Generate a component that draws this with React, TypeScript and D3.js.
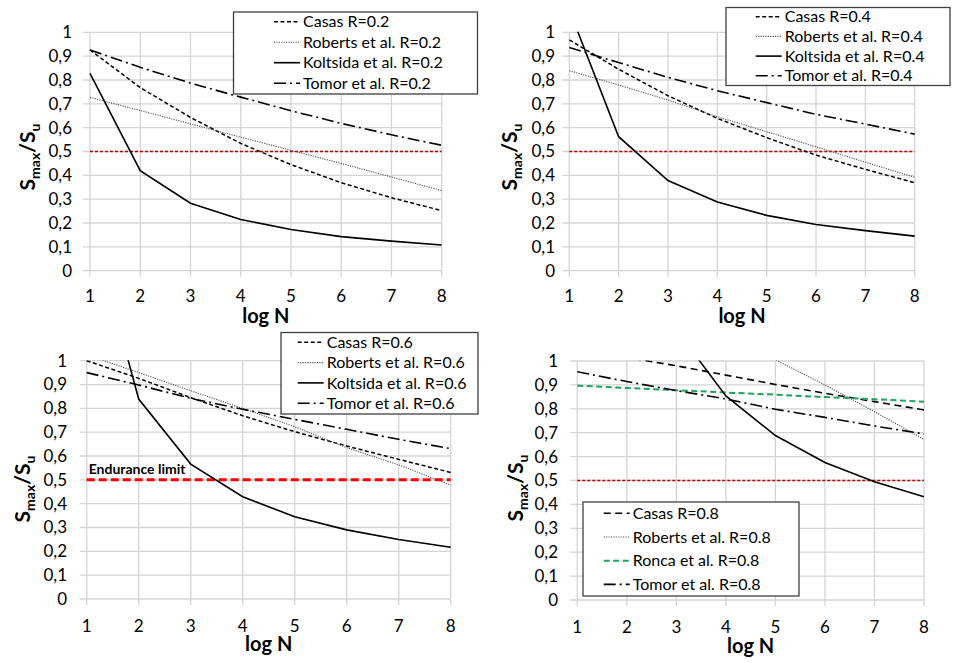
import React from 'react';
import * as d3 from 'd3';

// ---------- DATA ----------
const logN = [1, 2, 3, 4, 5, 6, 7, 8];
const yTickValues = [0, 0.1, 0.2, 0.3, 0.4, 0.5, 0.6, 0.7, 0.8, 0.9, 1];
const yTickLabels = ['0', '0,1', '0,2', '0,3', '0,4', '0,5', '0,6', '0,7', '0,8', '0,9', '1'];
const enduranceLimit = 0.5;

// R = 0.2
const casas02 = [0.926, 0.768, 0.643, 0.534, 0.445, 0.369, 0.306, 0.252];
const roberts02 = [0.727, 0.672, 0.616, 0.56, 0.505, 0.45, 0.393, 0.336];
const koltsida02 = [0.828, 0.42, 0.283, 0.215, 0.173, 0.143, 0.124, 0.108];
const tomor02 = [0.926, 0.853, 0.787, 0.728, 0.671, 0.618, 0.57, 0.526];

// R = 0.4
const casas04 = [0.968, 0.845, 0.734, 0.639, 0.558, 0.485, 0.425, 0.369];
const roberts04 = [0.839, 0.779, 0.716, 0.646, 0.583, 0.52, 0.455, 0.392];
const koltsida04 = [1.094, 0.562, 0.378, 0.288, 0.232, 0.194, 0.168, 0.145];
const tomor04 = [0.936, 0.873, 0.811, 0.755, 0.705, 0.656, 0.615, 0.573];

// R = 0.6
const casas06 = [1.0, 0.926, 0.845, 0.769, 0.702, 0.642, 0.586, 0.531];
const roberts06 = [1.025, 0.95, 0.874, 0.8, 0.723, 0.635, 0.563, 0.478];
const koltsida06 = [1.644, 0.839, 0.566, 0.429, 0.345, 0.29, 0.25, 0.217];
const tomor06 = [0.95, 0.898, 0.842, 0.796, 0.754, 0.712, 0.67, 0.631];

// R = 0.8
const casas08 = [1.05, 1.015, 0.98, 0.941, 0.902, 0.865, 0.83, 0.795];
const roberts08 = [1.47, 1.35, 1.235, 1.12, 1.005, 0.9, 0.788, 0.672];
const ronca08 = [0.897, 0.887, 0.878, 0.868, 0.859, 0.849, 0.84, 0.83];
const tomor08 = [0.955, 0.914, 0.876, 0.841, 0.798, 0.764, 0.728, 0.695];
const koltsida08 = [2.1, 1.5, 1.13, 0.854, 0.688, 0.575, 0.495, 0.432];

// ---------- STYLES ----------
type LineStyle = { stroke: string; width: number; dash?: string };
const sCasas: LineStyle = { stroke: '#000', width: 1.5, dash: '4,2.5' };
const sCasas08: LineStyle = { stroke: '#000', width: 1.6, dash: '7,4.5' };
const sRoberts: LineStyle = { stroke: '#555', width: 1.1, dash: '1.2,1.2' };
const sKoltsida: LineStyle = { stroke: '#000', width: 1.6 };
const sTomor: LineStyle = { stroke: '#000', width: 1.6, dash: '12,4,2,4' };
const sRonca: LineStyle = { stroke: '#20a35a', width: 2, dash: '6,3.5' };

type Series = { name?: string; values: number[]; style: LineStyle };

type PanelCfg = {
  x0: number; x1: number; yTop: number; yBottom: number;
  series: Series[];
  legend: { x: number; y: number; w: number; h: number; rowStart: number; rowStep: number; sampleX: number };
  ylabel: { x: number; y: number };
  tickRight: number;
  xTickY: number;
  xLabelY: number;
  redThick?: boolean;
};

const panels: PanelCfg[] = [
  {
    x0: 90, x1: 441.7, yTop: 32.3, yBottom: 270.7,
    series: [
      { name: 'Casas R=0.2', values: casas02, style: sCasas },
      { name: 'Roberts et al. R=0.2', values: roberts02, style: sRoberts },
      { name: 'Koltsida et al. R=0.2', values: koltsida02, style: sKoltsida },
      { name: 'Tomor et al. R=0.2', values: tomor02, style: sTomor },
    ],
    legend: { x: 233.5, y: 12, w: 244, h: 82, rowStart: 21.7, rowStep: 20.5, sampleX: 274 },
    ylabel: { x: 28, y: 157 },
    tickRight: 72,
    xTickY: 296,
    xLabelY: 323,
  },
  {
    x0: 569.3, x1: 914.7, yTop: 32.3, yBottom: 270.7,
    series: [
      { name: 'Casas R=0.4', values: casas04, style: sCasas },
      { name: 'Roberts et al. R=0.4', values: roberts04, style: sRoberts },
      { name: 'Koltsida et al. R=0.4', values: koltsida04, style: sKoltsida },
      { name: 'Tomor et al. R=0.4', values: tomor04, style: sTomor },
    ],
    legend: { x: 726, y: 7.5, w: 224, h: 78, rowStart: 16.7, rowStep: 19.7, sampleX: 755.7 },
    ylabel: { x: 510, y: 157 },
    tickRight: 555,
    xTickY: 296,
    xLabelY: 323,
  },
  {
    x0: 86.7, x1: 450.7, yTop: 360.7, yBottom: 599,
    series: [
      { name: 'Casas R=0.6', values: casas06, style: sCasas },
      { name: 'Roberts et al. R=0.6', values: roberts06, style: sRoberts },
      { name: 'Koltsida et al. R=0.6', values: koltsida06, style: sKoltsida },
      { name: 'Tomor et al. R=0.6', values: tomor06, style: sTomor },
    ],
    legend: { x: 281, y: 332.5, w: 197, h: 81.5, rowStart: 342.3, rowStep: 20.3, sampleX: 297.7 },
    ylabel: { x: 23, y: 489 },
    tickRight: 67,
    xTickY: 626,
    xLabelY: 651,
    redThick: true,
  },
  {
    x0: 577.3, x1: 924, yTop: 361, yBottom: 600,
    series: [
      { name: 'Casas R=0.8', values: casas08, style: sCasas08 },
      { name: 'Roberts et al. R=0.8', values: roberts08, style: sRoberts },
      { name: 'Ronca et al. R=0.8', values: ronca08, style: sRonca },
      { name: 'Tomor et al. R=0.8', values: tomor08, style: sTomor },
      { values: koltsida08, style: sKoltsida },
    ],
    legend: { x: 583, y: 502, w: 216, h: 94, rowStart: 513.3, rowStep: 23.7, sampleX: 603.7 },
    ylabel: { x: 516, y: 488 },
    tickRight: 558,
    xTickY: 627,
    xLabelY: 653,
  },
];

const FONT = 'Lato, "Open Sans", "DejaVu Sans", sans-serif';

function Panel({ cfg, idx }: { cfg: PanelCfg; idx: number }) {
  const x = d3.scaleLinear().domain([1, 8]).range([cfg.x0, cfg.x1]);
  const y = d3.scaleLinear().domain([0, 1]).range([cfg.yBottom, cfg.yTop]);
  const line = d3.line<number>().x((_, i) => x(logN[i])).y((d) => y(d));
  const clipId = `clip-${idx}`;
  const legendItems = cfg.series.filter((s) => s.name);
  return (
    <g>
      <defs>
        <clipPath id={clipId}>
          <rect x={cfg.x0 - 1} y={cfg.yTop - 0.5} width={cfg.x1 - cfg.x0 + 2} height={cfg.yBottom - cfg.yTop + 1} />
        </clipPath>
      </defs>
      {/* grid */}
      {yTickValues.map((v) => (
        <line key={'h' + v} x1={cfg.x0 - 7} x2={cfg.x1} y1={y(v)} y2={y(v)} stroke="#d4d4d4" strokeWidth={1.3} />
      ))}
      {logN.map((v) => (
        <line key={'v' + v} x1={x(v)} x2={x(v)} y1={cfg.yTop} y2={cfg.yBottom + 6} stroke="#d4d4d4" strokeWidth={1.3} />
      ))}
      {/* tick labels */}
      {yTickValues.map((v, i) => (
        <text key={'yl' + v} x={cfg.tickRight} y={y(v)} dy="0.35em" textAnchor="end" fontFamily={FONT} fontSize={17} fill="#000">
          {yTickLabels[i]}
        </text>
      ))}
      {logN.map((v) => (
        <text key={'xl' + v} x={x(v)} y={cfg.xTickY} dy="0.35em" textAnchor="middle" fontFamily={FONT} fontSize={17} fill="#000">
          {v}
        </text>
      ))}
      <text x={(cfg.x0 + cfg.x1) / 2} y={cfg.xLabelY} textAnchor="middle" fontFamily={FONT} fontWeight="bold" fontSize={20} fill="#000">
        log N
      </text>
      <text
        transform={`translate(${cfg.ylabel.x},${cfg.ylabel.y}) rotate(-90)`}
        textAnchor="middle"
        dy="0.35em"
        fontFamily={FONT}
        fontWeight="bold"
        fontSize={21}
        fill="#000"
      >
        S<tspan fontSize={14} dy="5">max</tspan>
        <tspan dy="-5">/S</tspan>
        <tspan fontSize={14} dy="5">u</tspan>
      </text>
      {/* endurance limit */}
      {cfg.redThick ? (
        <g>
          <line x1={cfg.x0} x2={cfg.x1} y1={y(enduranceLimit)} y2={y(enduranceLimit)} stroke="#ff0000" strokeWidth={3} strokeDasharray="8,4" />
          <text x={cfg.x0 + 2} y={y(enduranceLimit) - 6} fontFamily={FONT} fontWeight="bold" fontSize={14} fill="#000">
            Endurance limit
          </text>
        </g>
      ) : (
        <line x1={cfg.x0} x2={cfg.x1} y1={y(enduranceLimit)} y2={y(enduranceLimit)} stroke="#c00000" strokeWidth={1.4} strokeDasharray="3,2" />
      )}
      {/* series */}
      <g clipPath={`url(#${clipId})`}>
        {cfg.series.map((s, i) => (
          <path
            key={i}
            d={line(s.values) || ''}
            fill="none"
            stroke={s.style.stroke}
            strokeWidth={s.style.width}
            strokeDasharray={s.style.dash}
          />
        ))}
      </g>
      {/* legend */}
      <rect x={cfg.legend.x} y={cfg.legend.y} width={cfg.legend.w} height={cfg.legend.h} fill="#fff" stroke="#404040" strokeWidth={1.3} />
      {legendItems.map((s, i) => {
        const ry = cfg.legend.rowStart + i * cfg.legend.rowStep;
        return (
          <g key={'lg' + i}>
            <line x1={cfg.legend.sampleX} x2={cfg.legend.sampleX + 26} y1={ry} y2={ry} stroke={s.style.stroke} strokeWidth={s.style.width} strokeDasharray={s.style.dash} />
            <text x={cfg.legend.sampleX + 29} y={ry} dy="0.35em" fontFamily={FONT} fontSize={16} fill="#000">
              {s.name}
            </text>
          </g>
        );
      })}
    </g>
  );
}

export default function App() {
  return (
    <svg width={957} height={663} viewBox="0 0 957 663" style={{ position: 'absolute', left: 0, top: 0, background: '#fff' }}>
      <rect x={0} y={0} width={957} height={663} fill="#fff" />
      {panels.map((p, i) => (
        <Panel key={i} cfg={p} idx={i} />
      ))}
    </svg>
  );
}
